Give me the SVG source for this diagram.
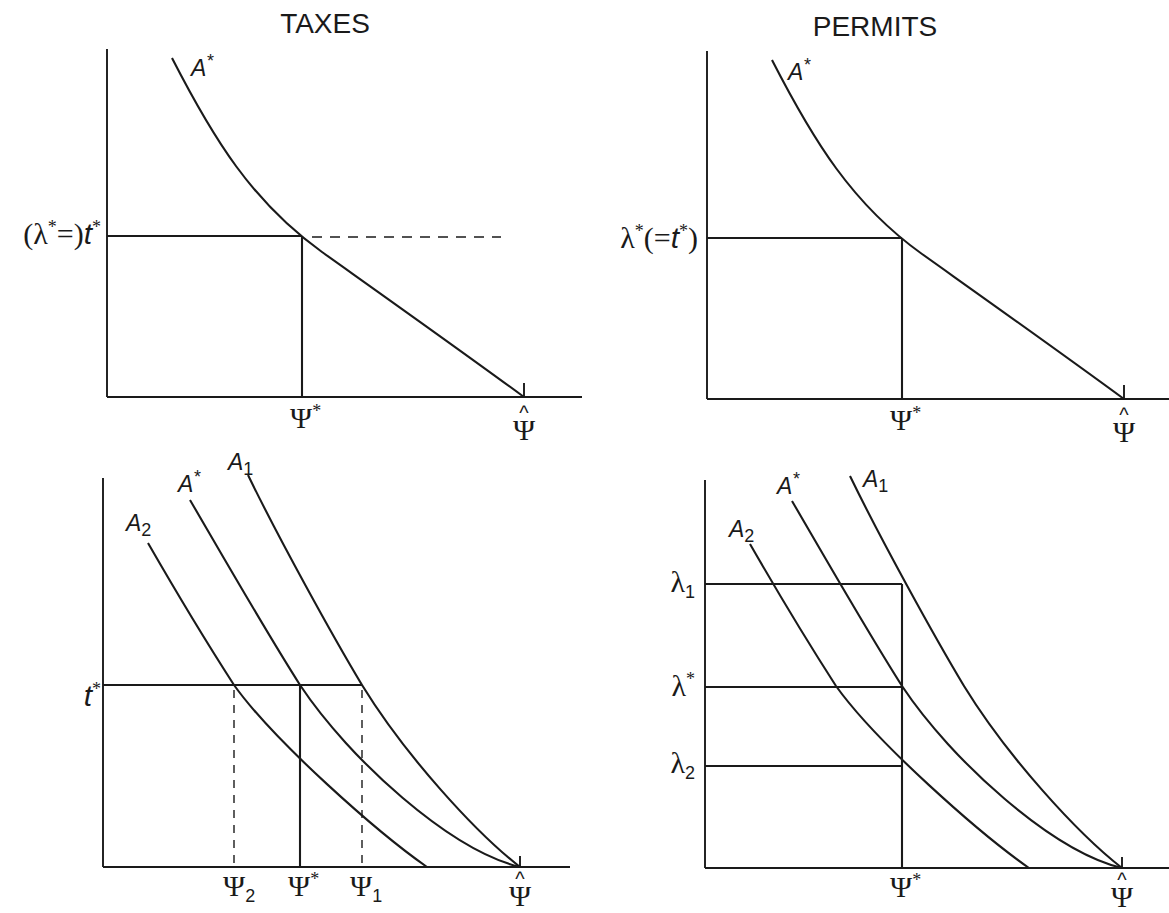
<svg xmlns="http://www.w3.org/2000/svg" width="1169" height="913" viewBox="0 0 1169 913">
<style>
.ln{stroke:#1a1a1a;stroke-width:2.1;fill:none}
.ax{stroke:#1a1a1a;stroke-width:1.9;fill:none}
.dh{stroke:#1a1a1a;stroke-width:1.5;fill:none;stroke-dasharray:10 8}
.dv{stroke:#1a1a1a;stroke-width:1.4;fill:none;stroke-dasharray:8 7}
.ttl{font-family:"Liberation Sans",Arial,sans-serif;font-size:28px;fill:#1a1a1a}
.a{font-family:"Liberation Sans",Arial,sans-serif;font-style:italic;font-size:23px;fill:#1a1a1a}
.sr{font-family:"Liberation Serif","Times New Roman",serif;font-size:30px;fill:#1a1a1a}
.sub{font-family:"Liberation Sans",Arial,sans-serif;font-style:normal;font-size:18px}
.sup{font-size:18px}
.it{font-family:"Liberation Sans",Arial,sans-serif;font-style:italic}
.hat{font-family:"Liberation Sans",Arial,sans-serif;font-size:20px}
</style>
<defs>
<g id="topcurve">
<path class="ln" d="M172,58 C213,138 252,202 322,252 C395,304 460,350 524,397"/>
</g>
<g id="botcurves">
<path class="ln" d="M248,475 C278,537 332,635 362,685 C405,755 475,832 520,867"/>
<path class="ln" d="M190,500 C225,560 265,630 300,685 C350,760 450,850 520,867"/>
<path class="ln" d="M148,543 C175,590 205,640 234,685 C274,741 377,832 427,867"/>
</g>
</defs>

<g id="titles">
<text class="ttl" x="325" y="33" text-anchor="middle">TAXES</text>
<text class="ttl" x="875" y="36" text-anchor="middle">PERMITS</text>
</g>

<!-- Top-left: taxes -->
<g id="panel-taxes-top">
<line class="ax" x1="107" y1="49" x2="107" y2="397"/>
<line class="ax" x1="107" y1="397" x2="582" y2="397"/>
<line class="ax" x1="524" y1="383" x2="524" y2="397"/>
<use href="#topcurve"/>
<line class="ln" x1="107" y1="236" x2="302" y2="236"/>
<line class="ln" x1="302" y1="236" x2="302" y2="397"/>
<line class="dh" x1="312" y1="237" x2="501" y2="237"/>
<text class="a" x="191" y="76">A<tspan class="sup" dy="-9">*</tspan></text>
<text class="sr" x="101" y="244" text-anchor="end">(λ<tspan class="sup" dy="-11">*</tspan><tspan dy="11">=)</tspan><tspan class="it">t</tspan><tspan class="sup" dy="-11">*</tspan></text>
<text class="sr" x="290" y="428">Ψ<tspan class="sup" dy="-11">*</tspan></text>
<text class="sr" text-anchor="middle"><tspan class="hat" x="524" y="420">^</tspan><tspan x="524" y="440">Ψ</tspan></text>
</g>

<!-- Top-right: permits -->
<g id="panel-permits-top">
<line class="ax" x1="707" y1="51" x2="707" y2="399"/>
<line class="ax" x1="707" y1="399" x2="1169" y2="399"/>
<line class="ax" x1="1124" y1="385" x2="1124" y2="399"/>
<use href="#topcurve" transform="translate(600,2)"/>
<line class="ln" x1="707" y1="238" x2="902" y2="238"/>
<line class="ln" x1="902" y1="238" x2="902" y2="399"/>
<text class="a" x="788" y="80">A<tspan class="sup" dy="-9">*</tspan></text>
<text class="sr" x="698" y="248" text-anchor="end">λ<tspan class="sup" dy="-11">*</tspan><tspan dy="11">(=</tspan><tspan class="it">t</tspan><tspan class="sup" dy="-11">*</tspan><tspan dy="11">)</tspan></text>
<text class="sr" x="890" y="430">Ψ<tspan class="sup" dy="-11">*</tspan></text>
<text class="sr" text-anchor="middle"><tspan class="hat" x="1124" y="422">^</tspan><tspan x="1124" y="442">Ψ</tspan></text>
</g>

<!-- Bottom-left: taxes -->
<g id="panel-taxes-bottom">
<line class="ax" x1="103" y1="478" x2="103" y2="867"/>
<line class="ax" x1="103" y1="867" x2="570" y2="867"/>
<line class="ax" x1="520" y1="856" x2="520" y2="867"/>
<use href="#botcurves"/>
<line class="ln" x1="103" y1="685" x2="362" y2="685"/>
<line class="ln" x1="300" y1="685" x2="300" y2="867"/>
<line class="dv" x1="234" y1="690" x2="234" y2="867"/>
<line class="dv" x1="362" y1="690" x2="362" y2="867"/>
<text class="a" x="228" y="470">A<tspan class="sub" dy="5">1</tspan></text>
<text class="a" x="178" y="492">A<tspan class="sup" dy="-9">*</tspan></text>
<text class="a" x="126" y="531">A<tspan class="sub" dy="5">2</tspan></text>
<text class="sr" x="101" y="706" text-anchor="end"><tspan class="it">t</tspan><tspan class="sup" dy="-11">*</tspan></text>
<text class="sr" x="223" y="896">Ψ<tspan class="sub" dy="6">2</tspan></text>
<text class="sr" x="288" y="896">Ψ<tspan class="sup" dy="-11">*</tspan></text>
<text class="sr" x="350" y="896">Ψ<tspan class="sub" dy="6">1</tspan></text>
<text class="sr" text-anchor="middle"><tspan class="hat" x="520" y="886">^</tspan><tspan x="520" y="906">Ψ</tspan></text>
</g>

<!-- Bottom-right: permits -->
<g id="panel-permits-bottom">
<line class="ax" x1="705" y1="480" x2="705" y2="868"/>
<line class="ax" x1="705" y1="868" x2="1169" y2="868"/>
<line class="ax" x1="1122" y1="857" x2="1122" y2="868"/>
<use href="#botcurves" transform="translate(602,1)"/>
<line class="ln" x1="705" y1="584" x2="902" y2="584"/>
<line class="ln" x1="705" y1="687" x2="902" y2="687"/>
<line class="ln" x1="705" y1="766" x2="902" y2="766"/>
<line class="ln" x1="902" y1="584" x2="902" y2="868"/>
<text class="a" x="863" y="487">A<tspan class="sub" dy="5">1</tspan></text>
<text class="a" x="777" y="494">A<tspan class="sup" dy="-9">*</tspan></text>
<text class="a" x="729" y="537">A<tspan class="sub" dy="5">2</tspan></text>
<text class="sr" x="695" y="592" text-anchor="end">λ<tspan class="sub" dy="6">1</tspan></text>
<text class="sr" x="695" y="696" text-anchor="end">λ<tspan class="sup" dy="-11">*</tspan></text>
<text class="sr" x="695" y="773" text-anchor="end">λ<tspan class="sub" dy="6">2</tspan></text>
<text class="sr" x="890" y="897">Ψ<tspan class="sup" dy="-11">*</tspan></text>
<text class="sr" text-anchor="middle"><tspan class="hat" x="1122" y="887">^</tspan><tspan x="1122" y="907">Ψ</tspan></text>
</g>
</svg>
